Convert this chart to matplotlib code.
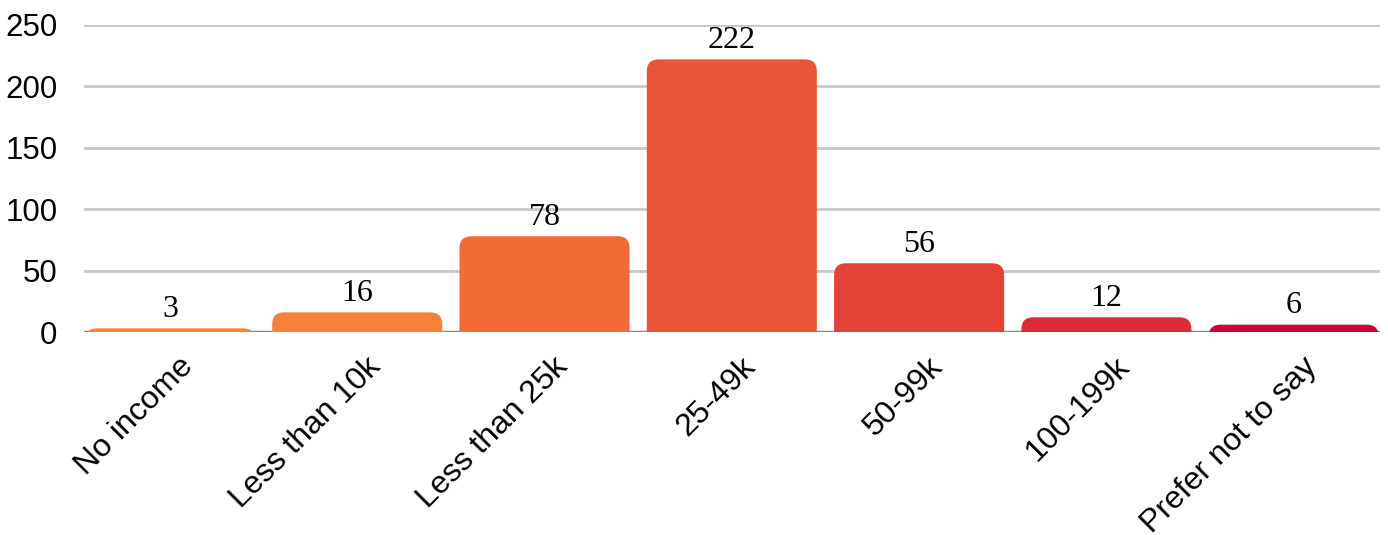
import matplotlib.pyplot as plt
import matplotlib as mpl
import matplotlib.transforms as transforms
from matplotlib.patches import FancyBboxPatch

mpl.rcParams['font.family'] = ['Liberation Sans', 'DejaVu Sans']

categories = ['No income', 'Less than 10k', 'Less than 25k', '25-49k',
              '50-99k', '100-199k', 'Prefer not to say']
counts = [3, 16, 78, 222, 56, 12, 6]
colors = ['#F6823A', '#F7813A', '#F26B37', '#EA5539', '#E34336', '#DC2A3B', '#D0003A']
yticks = [0, 50, 100, 150, 200, 250]

fig = plt.figure(figsize=(13.88, 5.35), dpi=100)
ax = fig.add_axes([0.0605, 0.3794, 0.9335, 0.5739])

bar_w = 0.908
ax.set_xlim(-bar_w / 2 - 0.005, len(categories) - 1 + bar_w / 2 + 0.005)
ax.set_ylim(0, 250)

# pixel scale -> aspect for rounded top corners
ax_w_px = 0.9335 * 1388
ax_h_px = 0.5739 * 535
x_per_px = (ax.get_xlim()[1] - ax.get_xlim()[0]) / ax_w_px
y_per_px = 250 / ax_h_px
aspect = y_per_px / x_per_px
r_px = 12
r_x = r_px * x_per_px
r_y = r_px * y_per_px

for i, (v, c) in enumerate(zip(counts, colors)):
    box = FancyBboxPatch((i - bar_w / 2, -r_y), bar_w, v + r_y,
                         boxstyle=f'round,pad=0,rounding_size={r_x}',
                         mutation_aspect=aspect, fc=c, ec='none', zorder=3)
    ax.add_patch(box)
    ax.annotate(str(v), (i, v), xytext=(0, 3), textcoords='offset points',
                ha='center', va='bottom', fontsize=23,
                family=['Liberation Serif', 'DejaVu Serif'], zorder=4)

ax.set_yticks(yticks)
ax.yaxis.grid(True, color='#C8C8C8', linewidth=2)
ax.set_axisbelow(True)
ax.axhline(0, color='#888888', linewidth=2.5, zorder=2)
for s in ax.spines.values():
    s.set_visible(False)
ax.tick_params(axis='y', length=0, labelsize=22.5, pad=19)
ax.tick_params(axis='x', length=0, labelsize=23, pad=14)
ax.set_xticks(range(len(categories)))
ax.set_xticklabels(categories, rotation=45, ha='right', rotation_mode='anchor')
shift = transforms.ScaledTranslation(6 / 72, 0, fig.dpi_scale_trans)
for lbl in ax.get_xticklabels():
    lbl.set_transform(lbl.get_transform() + shift)

fig.savefig('out.png', dpi=100)
